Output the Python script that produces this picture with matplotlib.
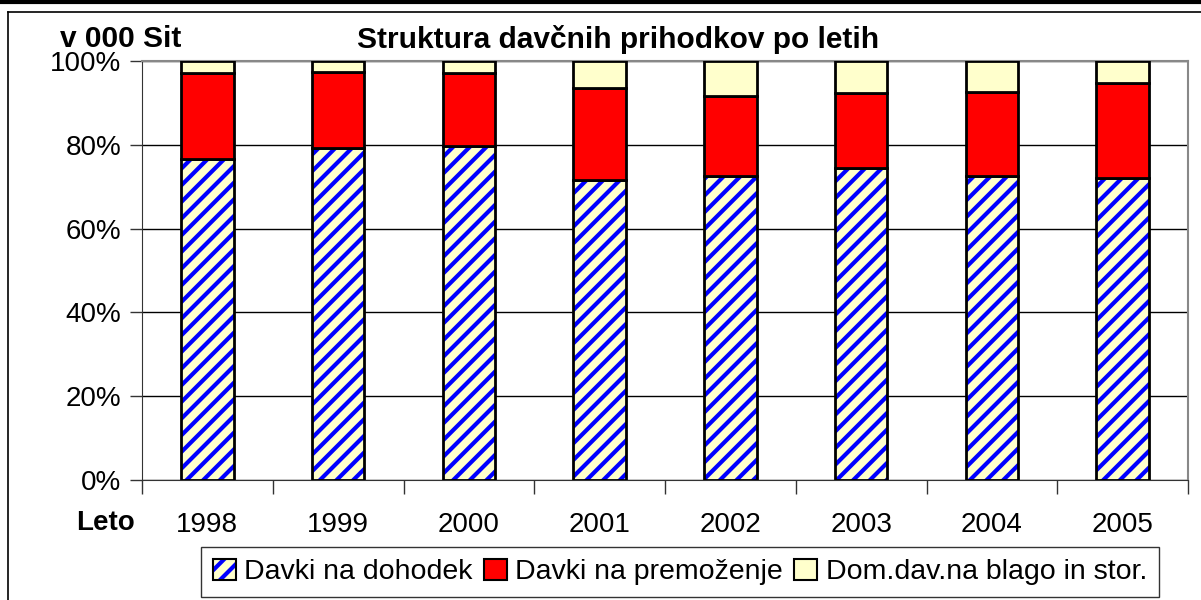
import numpy as np
import matplotlib
matplotlib.use("Agg")
import matplotlib.pyplot as plt
from matplotlib.patches import Patch
from matplotlib.lines import Line2D

plt.rcParams["font.family"] = ["Liberation Sans", "DejaVu Sans"]
plt.rcParams["hatch.linewidth"] = 3.0

# Data (shares in %)
years = ["1998", "1999", "2000", "2001", "2002", "2003", "2004", "2005"]
davki_dohodek = [76.5, 79.3, 79.8, 71.6, 72.6, 74.5, 72.6, 72.0]
davki_premozenje = [20.6, 18.0, 17.4, 22.0, 19.1, 17.8, 20.1, 22.7]
dom_dav_blago = [2.9, 2.7, 2.8, 6.4, 8.3, 7.7, 7.3, 5.3]
series_names = ["Davki na dohodek", "Davki na premoženje", "Dom.dav.na blago in stor."]

BLUE = "#0000FF"
RED = "#FF0000"
YELLOW = "#FFFFCC"

fig = plt.figure(figsize=(12.01, 6.0), dpi=100)
ax = fig.add_axes([142 / 1201, 120 / 600, (1188 - 142) / 1201, (480 - 61) / 600])

x = np.arange(len(years))
w = 0.4
d1 = np.array(davki_dohodek)
d2 = np.array(davki_premozenje)
d3 = np.array(dom_dav_blago)
total = d1 + d2 + d3
p1 = d1 / total * 100
p2 = d2 / total * 100
p3 = d3 / total * 100

# hatched bottom segment: hatch first, then black outline
ax.bar(x, p1, w, color=YELLOW, edgecolor=BLUE, hatch="//", linewidth=0, zorder=3)
ax.bar(x, p1, w, fill=False, edgecolor="black", linewidth=2, zorder=4)
ax.bar(x, p2, w, bottom=p1, color=RED, edgecolor="black", linewidth=2, zorder=4)
ax.bar(x, p3, w, bottom=p1 + p2, color=YELLOW, edgecolor="black", linewidth=2, zorder=4)

ax.set_xlim(-0.5, len(years) - 0.5)
ax.set_ylim(0, 100)
ax.set_yticks(np.arange(0, 101, 20))
ax.set_yticklabels([f"{v}%" for v in range(0, 101, 20)], fontsize=20)
ax.yaxis.grid(True, color="black", linewidth=1)
ax.set_axisbelow(True)

ax.set_xticks(np.arange(-0.5, len(years), 1.0))
ax.set_xticklabels([])
ax.set_xticks(x, minor=True)
ax.set_xticklabels(years, minor=True, fontsize=20)
ax.tick_params(axis="x", which="major", direction="out", length=10, width=1, color="#333333")
ax.tick_params(axis="x", which="minor", length=0, pad=23)
ax.tick_params(axis="y", direction="out", length=9, width=1, color="#333333", pad=6)

for s in ["top", "right"]:
    ax.spines[s].set_color("#888888")
    ax.spines[s].set_linewidth(1.5)
ax.spines["left"].set_color("#333333")
ax.spines["bottom"].set_color("#333333")

fig.text(60 / 1201, 1 - 39 / 600, "v 000 Sit", fontsize=21.5, fontweight="bold", va="center")
fig.text(618 / 1201, 1 - 40 / 600, "Struktura davčnih prihodkov po letih",
         fontsize=21.5, fontweight="bold", va="center", ha="center")
fig.text(105 / 1201, 1 - 523 / 600, "Leto", fontsize=20, fontweight="bold", va="center", ha="center")

handles = [
    (Patch(facecolor=YELLOW, edgecolor=BLUE, hatch="//", linewidth=0),
     Patch(fill=False, edgecolor="black", linewidth=1.5)),
    Patch(facecolor=RED, edgecolor="black", linewidth=1.5),
    Patch(facecolor=YELLOW, edgecolor="black", linewidth=1.5),
]
leg = fig.legend(handles, series_names, ncol=3, loc="center",
                 bbox_to_anchor=(680 / 1201, 1 - 572 / 600), fontsize=20.5,
                 frameon=True, fancybox=False, edgecolor="black",
                 handlelength=0.8, handleheight=0.8, handletextpad=0.3,
                 columnspacing=0.4, borderpad=0.4)
leg.get_frame().set_linewidth(1)

# chart-area frame lines
fig.add_artist(Line2D([0, 1], [1 - 1.5 / 600, 1 - 1.5 / 600], transform=fig.transFigure,
                      color="black", linewidth=3))
fig.add_artist(Line2D([8 / 1201, 1], [1 - 12 / 600, 1 - 12 / 600], transform=fig.transFigure,
                      color="black", linewidth=1.2))
fig.add_artist(Line2D([8 / 1201, 8 / 1201], [0, 1 - 12 / 600], transform=fig.transFigure,
                      color="black", linewidth=1.2))

fig.savefig("out.png", dpi=100)
